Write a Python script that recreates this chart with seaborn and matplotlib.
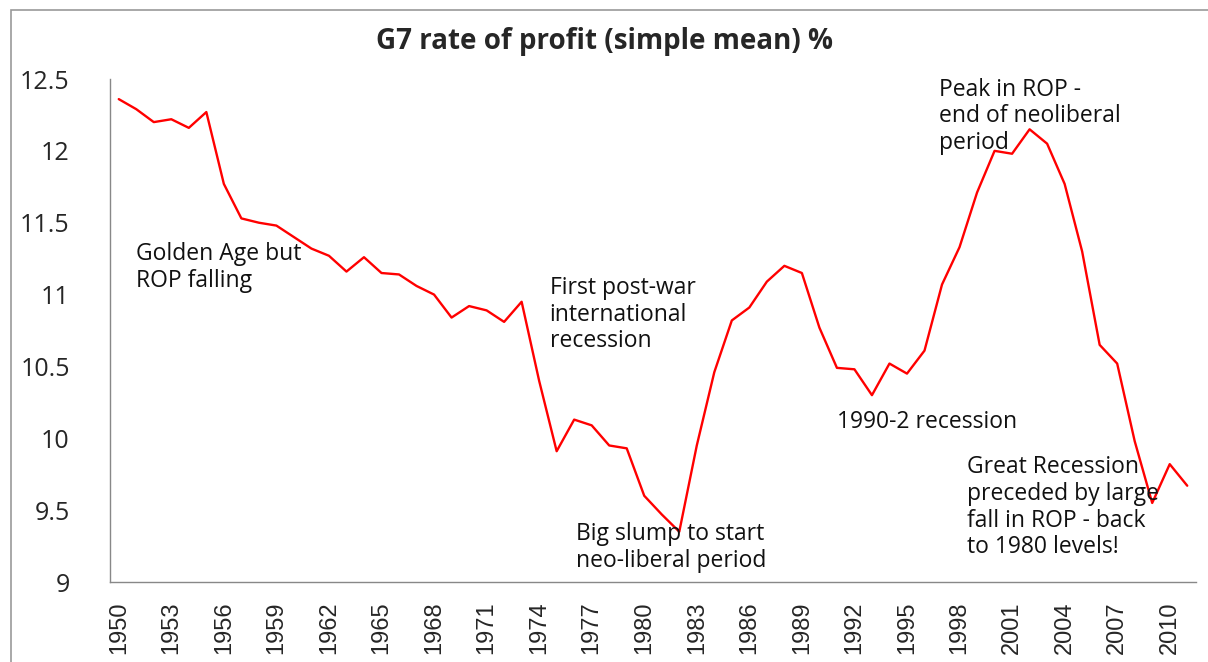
import matplotlib
matplotlib.use("Agg")
import matplotlib.pyplot as plt
from matplotlib.patches import Rectangle
import numpy as np
import pandas as pd
import seaborn as sns

years = list(range(1950, 2012))
rop = [12.36, 12.29, 12.20, 12.22, 12.16, 12.27, 11.77, 11.53, 11.50, 11.48,
       11.40, 11.32, 11.27, 11.16, 11.26, 11.15, 11.14, 11.06, 11.00, 10.84,
       10.92, 10.89, 10.81, 10.95, 10.40, 9.91, 10.13, 10.09, 9.95, 9.93,
       9.60, 9.47, 9.35, 9.95, 10.46, 10.82, 10.91, 11.09, 11.20, 11.15,
       10.77, 10.49, 10.48, 10.30, 10.52, 10.45, 10.61, 11.07, 11.33, 11.71,
       12.00, 11.98, 12.15, 12.05, 11.77, 11.30, 10.65, 10.52, 9.98, 9.55,
       9.82, 9.67]
tick_years = years[::3]

notes = [
    ("Golden Age but\nROP falling", 1951.0, 11.19),
    ("First post-war\ninternational\nrecession", 1974.6, 10.86),
    ("Big slump to start\nneo-liberal period", 1976.1, 9.24),
    ("Peak in ROP -\nend of neoliberal\nperiod", 1996.85, 12.24),
    ("1990-2 recession", 1991.0, 10.11),
    ("Great Recession\npreceded by large\nfall in ROP - back\nto 1980 levels!", 1998.45, 9.52),
]

df = pd.DataFrame({"year": years, "rop": rop})

sns.set_style("white")
plt.rcParams["font.family"] = ["Open Sans", "DejaVu Sans"]

fig = plt.figure(figsize=(12.08, 6.62), dpi=100)
ax = fig.add_axes([110 / 1208, 80 / 662, (1196 - 110) / 1208, (583 - 80) / 662])

sns.lineplot(data=df, x="year", y="rop", color="#ff0000", linewidth=1.7, ax=ax)

ax.set_xlim(1949.5, 2011.5)
ax.set_ylim(9, 12.5)
ax.set_yticks([9, 9.5, 10, 10.5, 11, 11.5, 12, 12.5])
ax.set_yticklabels(["9", "9.5", "10", "10.5", "11", "11.5", "12", "12.5"], fontsize=18)
ax.set_xticks(tick_years)
ax.set_xticklabels([str(y) for y in tick_years], rotation=90, fontsize=17,
                   family="Liberation Sans")
ax.set_xticks(np.arange(1949.5, 2012, 1), minor=True)
ax.tick_params(axis="x", which="major", length=0, pad=14)
ax.tick_params(axis="x", which="minor", length=6, color="#888888", width=1)
ax.tick_params(axis="y", length=7, color="#888888", width=1, pad=22)
ax.set_xlabel("")
ax.set_ylabel("")

for s in ["top", "right"]:
    ax.spines[s].set_visible(False)
for s in ["left", "bottom"]:
    ax.spines[s].set_color("#888888")
    ax.spines[s].set_linewidth(1)

for txt, x, y in notes:
    ax.text(x, y, txt, fontsize=16.5, va="center", ha="left", linespacing=1.15,
            color="#111111")

fig.text(605 / 1208, 1 - 42 / 662, "G7 rate of profit (simple mean) %",
         ha="center", va="center", fontsize=20, fontweight="bold")

fig.patches.append(Rectangle((11 / 1208, -0.1), 1.2, 1 - 10 / 662 + 0.1,
                             transform=fig.transFigure, fill=False,
                             edgecolor="#999999", linewidth=1.2))

fig.savefig("out.png", dpi=100)
